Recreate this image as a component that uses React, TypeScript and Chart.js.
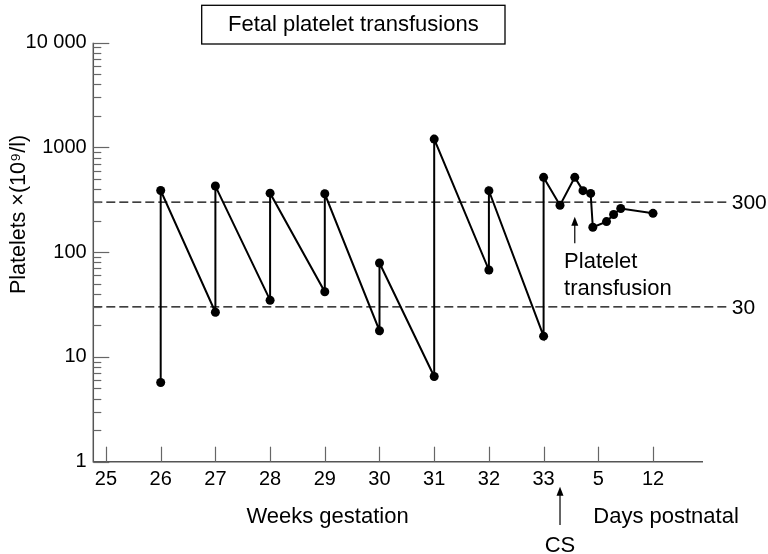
import { useEffect, useRef } from "react";
import { Chart, registerables } from "chart.js";
Chart.register(...registerables);

const FONT = '"Liberation Sans", Arial, Helvetica, sans-serif';

// x positions: 0 = week 25 ... 8 = week 33, 9 = day 5, 10 = day 12
const xTickValues = [0, 1, 2, 3, 4, 5, 6, 7, 8, 9, 10];
const xTickLabels = ["25", "26", "27", "28", "29", "30", "31", "32", "33", "5", "12"];
const pointX = [1, 1, 2, 2, 3, 3, 4, 4, 5, 5, 6, 6, 7, 7, 8, 8, 8.3, 8.57, 8.72, 8.86, 8.9, 9.15, 9.28, 9.41, 10];
const platelets = [5.7, 388, 26.7, 428, 34.8, 366, 41.9, 361, 17.8, 78.9, 6.5, 1202, 67.6, 387, 15.8, 518, 281, 518, 387, 364, 173, 196, 229, 261, 235];

const yMajorTicks = [1, 10, 100, 1000, 10000];
const yTickLabels = ["1", "10", "100", "1000", "10 000"];
const thresholds = [300, 30];
const thresholdLabels = ["300", "30"];

const csX = 8.3;
const transfusionX = 8.57;

function arrow(ctx: CanvasRenderingContext2D, x: number, tip: number, tail: number) {
  ctx.save();
  ctx.strokeStyle = "#000";
  ctx.fillStyle = "#000";
  ctx.lineWidth = 1.2;
  ctx.beginPath();
  ctx.moveTo(x, tail);
  ctx.lineTo(x, tip + 6);
  ctx.stroke();
  ctx.beginPath();
  ctx.moveTo(x, tip);
  ctx.lineTo(x - 3.5, tip + 9);
  ctx.lineTo(x + 3.5, tip + 9);
  ctx.closePath();
  ctx.fill();
  ctx.restore();
}

export default function App() {
  const ref = useRef<HTMLCanvasElement>(null);
  useEffect(() => {
    const canvas = ref.current!;
    const minorTicks: number[] = [];
    for (let e = 0; e < 4; e++) {
      for (let m = 1; m < 10; m++) minorTicks.push(m * Math.pow(10, e));
    }
    minorTicks.push(10000);

    const annot = {
      id: "annot",
      beforeDatasetsDraw(chart: any) {
        const { ctx, chartArea, scales } = chart;
        const y = scales.y;
        ctx.save();
        ctx.strokeStyle = "#000";
        ctx.lineWidth = 1.2;
        ctx.setLineDash([9, 4]);
        thresholds.forEach((t) => {
          const py = y.getPixelForValue(t);
          ctx.beginPath();
          ctx.moveTo(chartArea.left, py);
          ctx.lineTo(chartArea.right + 24, py);
          ctx.stroke();
        });
        ctx.setLineDash([]);
        ctx.fillStyle = "#000";
        ctx.font = "21px " + FONT;
        ctx.textAlign = "left";
        ctx.textBaseline = "middle";
        thresholds.forEach((t, i) => {
          const py = y.getPixelForValue(t);
          ctx.fillText(thresholdLabels[i], chartArea.right + 28.7, py + 1);
        });
        ctx.restore();
      },
      afterDraw(chart: any) {
        const { ctx, chartArea, scales } = chart;
        const x = scales.x;
        const y = scales.y;
        ctx.save();
        // axis lines
        ctx.strokeStyle = "#555";
        ctx.lineWidth = 1.5;
        ctx.beginPath();
        ctx.moveTo(chartArea.left, chartArea.top);
        ctx.lineTo(chartArea.left, chartArea.bottom);
        ctx.lineTo(chartArea.right, chartArea.bottom);
        ctx.stroke();
        // y ticks (inward)
        ctx.lineWidth = 1.2;
        ctx.strokeStyle = "#666";
        minorTicks.forEach((v) => {
          const py = Math.round(y.getPixelForValue(v)) + 0.5;
          const len = yMajorTicks.includes(v) ? 16 : 8;
          ctx.beginPath();
          ctx.moveTo(chartArea.left, py);
          ctx.lineTo(chartArea.left + len, py);
          ctx.stroke();
        });
        // x ticks (inward)
        xTickValues.forEach((v) => {
          const px = Math.round(x.getPixelForValue(v)) + 0.5;
          ctx.beginPath();
          ctx.moveTo(px, chartArea.bottom);
          ctx.lineTo(px, chartArea.bottom - 15);
          ctx.stroke();
        });

        ctx.fillStyle = "#000";
        ctx.font = "22px " + FONT;
        ctx.textBaseline = "alphabetic";

        // title box
        ctx.strokeStyle = "#000";
        ctx.lineWidth = 1.3;
        ctx.strokeRect(201.7, 5.3, 303.3, 38.7);
        ctx.textAlign = "center";
        ctx.fillText("Fetal platelet transfusions", 353.3, 30.7);

        // axis texts
        ctx.fillText("Weeks gestation", 327.5, 523.3);
        ctx.textAlign = "left";
        ctx.fillText("Days postnatal", 593.3, 523.3);
        ctx.textAlign = "center";
        const csPx = x.getPixelForValue(csX);
        ctx.fillText("CS", csPx, 551.7);
        arrow(ctx, csPx, 486.7, 525);

        const tPx = x.getPixelForValue(transfusionX);
        arrow(ctx, tPx, 216.7, 243.3);
        ctx.textAlign = "left";
        ctx.fillText("Platelet", tPx - 10.7, 268.3);
        ctx.fillText("transfusion", tPx - 10.7, 295);

        // y title
        ctx.save();
        ctx.font = "21.5px " + FONT;
        ctx.translate(25, 214.5);
        ctx.rotate(-Math.PI / 2);
        ctx.textAlign = "center";
        ctx.fillText("Platelets \u00d7(10\u2079/l)", 0, 0);
        ctx.restore();

        ctx.restore();
      },
    };

    const chart = new Chart(canvas, {
      type: "line",
      data: {
        datasets: [
          {
            data: pointX.map((v, i) => ({ x: v, y: platelets[i] })),
            borderColor: "#000",
            borderWidth: 2,
            pointRadius: 4.5,
            pointBackgroundColor: "#000",
            pointBorderColor: "#000",
            pointBorderWidth: 0,
            tension: 0,
          },
        ],
      },
      options: {
        animation: false,
        responsive: true,
        maintainAspectRatio: false,
        layout: { padding: { left: 0, right: 65, top: 42.7, bottom: 0 } },
        plugins: { legend: { display: false }, tooltip: { enabled: false }, title: { display: false } },
        scales: {
          x: {
            type: "linear",
            min: -0.232,
            max: 10.914,
            grid: { display: false, drawTicks: false },
            border: { display: false },
            afterFit: (s: any) => {
              s.height = 92.3;
            },
            afterBuildTicks: (s: any) => {
              s.ticks = xTickValues.map((v) => ({ value: v }));
            },
            ticks: {
              autoSkip: false,
              maxRotation: 0,
              padding: 5.3,
              color: "#000",
              font: { family: FONT, size: 20 },
              callback: (v: any) => {
                const i = xTickValues.indexOf(Number(v));
                return i >= 0 ? xTickLabels[i] : "";
              },
            },
          },
          y: {
            type: "logarithmic",
            min: 1,
            max: 10000,
            grid: { display: false, drawTicks: false },
            border: { display: false },
            afterFit: (s: any) => {
              s.width = 93.3;
            },
            afterBuildTicks: (s: any) => {
              s.ticks = yMajorTicks.map((v) => ({ value: v }));
            },
            ticks: {
              autoSkip: false,
              padding: 6.6,
              color: "#000",
              font: { family: FONT, size: 20 },
              callback: (v: any) => {
                const i = yMajorTicks.indexOf(Number(v));
                return i >= 0 ? yTickLabels[i] : "";
              },
            },
          },
        },
      },
      plugins: [annot],
    });
    return () => chart.destroy();
  }, []);
  return (
    <div style={{ position: "fixed", left: 0, top: 0, width: 768, height: 554, background: "#fff" }}>
      <canvas ref={ref} />
    </div>
  );
}
